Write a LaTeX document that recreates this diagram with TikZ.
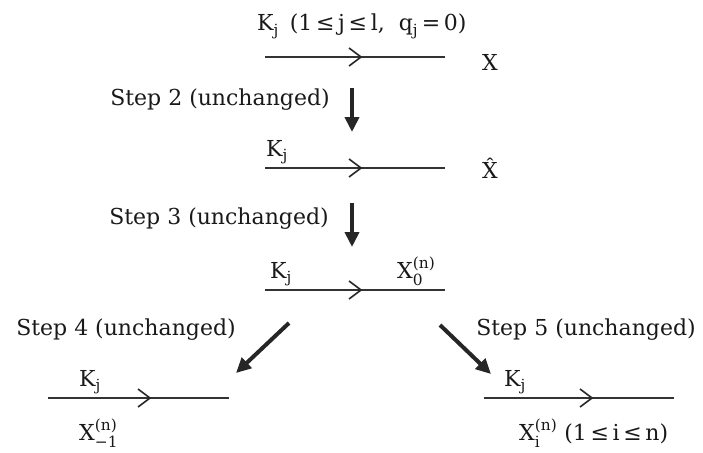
\documentclass[tikz,border=0pt]{standalone}
\usepackage{fontspec}
\usepackage{amsmath}
\setmainfont{DejaVu Serif}
\usetikzlibrary{arrows.meta,calc}
\tikzset{
  lbl/.style={inner sep=0pt, font=\fontsize{22}{26}\selectfont, text=black!90},
  hline/.style={line width=1.2pt, draw=black!80},
  chev/.style={line width=1.6pt, draw=black!85, line join=miter},
  bigarrow/.style={line width=4pt, draw=black!85, -{Triangle[length=15pt,width=14pt]}}
}
\newcommand{\chevat}[1]{\draw[chev] ($(#1)+(-6,-9)$) -- ($(#1)+(6,0)$) -- ($(#1)+(-6,9)$);}
\newcommand{\tsub}[1]{$_{\text{#1}}$}
\newcommand{\tsubsup}[2]{$^{\text{#2}}_{\text{#1}}$}
\begin{document}
\begin{tikzpicture}[x=1pt,y=-1pt]
\useasboundingbox (0,0) rectangle (703,452);
% level 1
\coordinate (a1) at (265,57); \coordinate (b1) at (445,57); \coordinate (c1) at (355,57);
\draw[hline] (a1) -- (b1); \chevat{c1}
\node[lbl, anchor=base west] (k1) at (257,31) {K\tsub{j}\enspace(1\,≤\,j\,≤\,l,\ \ q\tsub{j}\,=\,0)};
\node[lbl] (x1) at (490,62) {X};
% arrow 1
\coordinate (d1s) at (352,88); \coordinate (d1e) at (352,132);
\draw[bigarrow] (d1s) -- (d1e);
\node[lbl] (s2) at (220,100) {Step 2 (unchanged)};
% level 2
\coordinate (a2) at (265,168); \coordinate (b2) at (445,168); \coordinate (c2) at (355,168);
\draw[hline] (a2) -- (b2); \chevat{c2}
\node[lbl, anchor=base west] (k2) at (266,156) {K\tsub{j}};
\node[lbl] (x2) at (490,168) {\^{X}};
% arrow 2
\coordinate (d2s) at (352,203); \coordinate (d2e) at (352,247);
\draw[bigarrow] (d2s) -- (d2e);
\node[lbl] (s3) at (219,219) {Step 3 (unchanged)};
% level 3
\coordinate (a3) at (265,290); \coordinate (b3) at (445,290); \coordinate (c3) at (355,290);
\draw[hline] (a3) -- (b3); \chevat{c3}
\node[lbl, anchor=base west] (k3) at (270,278) {K\tsub{j}};
\node[lbl, anchor=base west] (x3) at (397,278) {X\tsubsup{0}{(n)}};
% diagonal arrows
\coordinate (d4s) at (289,323); \coordinate (d4e) at (236,373);
\draw[bigarrow] (d4s) -- (d4e);
\node[lbl] (s4) at (126,330) {Step 4 (unchanged)};
\coordinate (d5s) at (440,325); \coordinate (d5e) at (491,374);
\draw[bigarrow] (d5s) -- (d5e);
\node[lbl] (s5) at (586,330) {Step 5 (unchanged)};
% level 4 left
\coordinate (a4) at (48,398); \coordinate (b4) at (229,398); \coordinate (c4) at (144,398);
\draw[hline] (a4) -- (b4); \chevat{c4}
\node[lbl, anchor=base west] (k4) at (79,386) {K\tsub{j}};
\node[lbl, anchor=base west] (x4) at (79,440) {X\tsubsup{−1}{(n)}};
% level 4 right
\coordinate (a5) at (484,398); \coordinate (b5) at (674,398); \coordinate (c5) at (586,398);
\draw[hline] (a5) -- (b5); \chevat{c5}
\node[lbl, anchor=base west] (k5) at (504,386) {K\tsub{j}};
\node[lbl, anchor=base west] (x5) at (519,440) {X\tsubsup{i}{(n)}\ (1\,≤\,i\,≤\,n)};
\end{tikzpicture}
\end{document}
